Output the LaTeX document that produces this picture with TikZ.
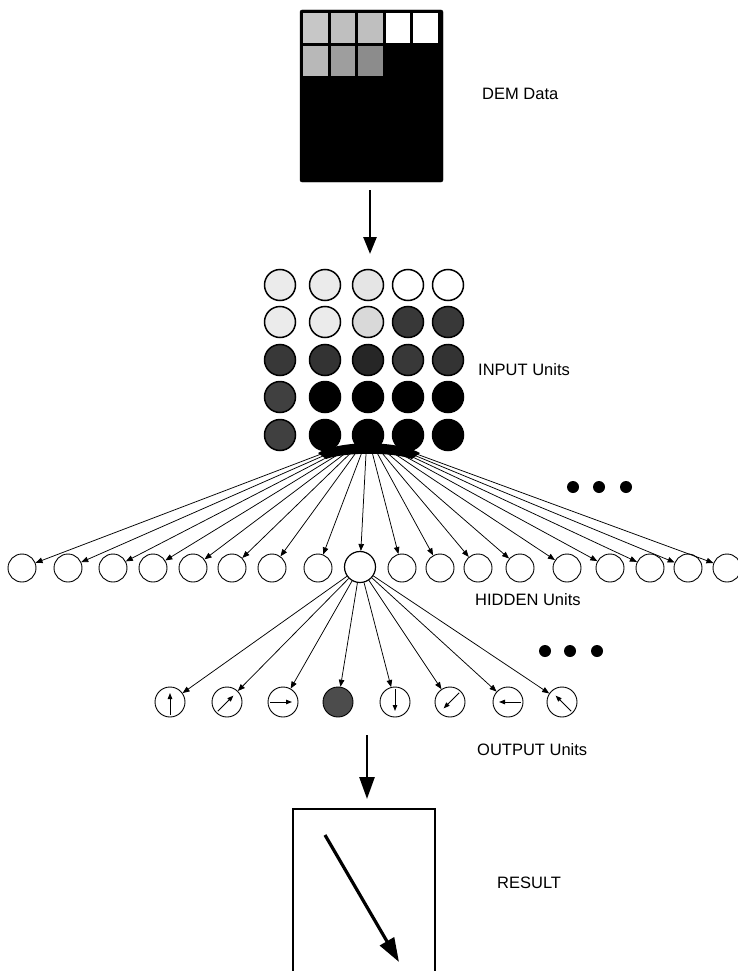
\documentclass[tikz,border=0pt]{standalone}
\usepackage{fontspec}
\setmainfont{Liberation Sans}
\usetikzlibrary{arrows.meta}
\begin{document}
\begin{tikzpicture}[x=1pt,y=-1pt,
 lbl/.style={anchor=west,font=\fontsize{16.5}{19}\selectfont,inner sep=0pt},
 inunit/.style={circle,draw,line width=1.5pt,minimum size=31pt,inner sep=0pt},
 hunit/.style={circle,draw,line width=0.9pt,minimum size=28pt,inner sep=0pt},
 ounit/.style={circle,draw,line width=0.9pt,minimum size=30pt,inner sep=0pt},
 conn/.style={line width=0.75pt,-{Triangle[length=7pt,width=5.5pt]}},
 inarrow/.style={line width=1pt,-{Triangle[length=6pt,width=4.5pt]}},
 dotnode/.style={circle,fill,minimum size=12pt,inner sep=0pt},
]
\useasboundingbox (0,0) rectangle (737,971);

% DEM data grid
\node[draw,fill=black,rounded corners=2pt,minimum width=143pt,minimum height=172pt,inner sep=0pt] (dem) at (371.5,96) {};
\foreach \k/\col in {0/black!22,1/black!25,2/black!25,3/white,4/white}
  \fill[\col] ({303+27.5*\k},13) rectangle ({327.5+27.5*\k},43);
\foreach \k/\col in {0/black!28,1/black!38,2/black!45}
  \fill[\col] ({303+27.5*\k},46) rectangle ({327.5+27.5*\k},76);
\node[lbl] (demlbl) at (482,94) {DEM Data};

\coordinate (da1) at (370,190);
\coordinate (da2) at (370,254);
\draw[line width=2.6pt,-{Triangle[length=17pt,width=13pt]}] (da1) -- (da2);

% INPUT units
\foreach \c/\x/\col in {1/280/black!8,2/325/black!8,3/368/black!10,4/408/white,5/448/white}
  \node[inunit,fill=\col] (in1\c) at (\x,285) {};
\foreach \c/\x/\col in {1/280/black!8,2/325/black!8,3/368/black!15,4/408/black!78,5/448/black!78}
  \node[inunit,fill=\col] (in2\c) at (\x,322) {};
\foreach \c/\x/\col in {1/280/black!78,2/325/black!80,3/368/black!85,4/408/black!78,5/448/black!80}
  \node[inunit,fill=\col] (in3\c) at (\x,360) {};
\foreach \c/\x/\col in {1/280/black!75,2/325/black,3/368/black,4/408/black,5/448/black}
  \node[inunit,fill=\col] (in4\c) at (\x,397) {};
\foreach \c/\x/\col in {1/280/black!75,2/325/black,3/368/black,4/408/black,5/448/black}
  \node[inunit,fill=\col] (in5\c) at (\x,435) {};
\node[lbl] (inlbl) at (478,370) {INPUT Units};

% dark convergence blob
\fill (318,453) .. controls (340,440) and (396,440) .. (420,453)
  -- (412,459) .. controls (392,452) and (346,452) .. (326,459) -- cycle;

% HIDDEN units
\foreach \hx [count=\i] in {22,68,113,153,193,232,272,318,402,440,478,520,567,610,650,688,727}{
  \node[hunit] (h\i) at (\hx,568) {};
  \coordinate (s\i) at ({368+(\hx-368)*0.12},452);
  \draw[conn] (s\i) -- (h\i);
}
\node[hunit,line width=1.2pt,minimum size=31pt] (hb) at (360,567) {};
\coordinate (sb) at (366,454);
\draw[conn] (sb) -- (hb);
\node[lbl] (hidlbl) at (475,600) {HIDDEN Units};

\node[dotnode] (d1) at (573,487) {};
\node[dotnode] (d2) at (599,487) {};
\node[dotnode] (d3) at (626,487) {};

% OUTPUT units
\foreach \ox/\ang [count=\j] in {170/90,227/45,283/0,395/-90,450/-135,508/180,562/135}{
  \node[ounit] (o\j) at (\ox,702) {};
  \draw[inarrow] ([shift={(\ang+180:13pt)}]o\j.center) -- ([shift={(\ang:9pt)}]o\j.center);
  \draw[conn] (hb) -- (o\j);
}
\node[ounit,fill=black!70] (odark) at (338,702) {};
\draw[conn] (hb) -- (odark);

\node[dotnode] (d4) at (545,651) {};
\node[dotnode] (d5) at (570,651) {};
\node[dotnode] (d6) at (597,651) {};
\node[lbl] (outlbl) at (477,750) {OUTPUT Units};

% RESULT
\coordinate (ra1) at (367,735);
\coordinate (ra2) at (367,799);
\draw[line width=2.6pt,-{Triangle[length=22pt,width=15pt]}] (ra1) -- (ra2);
\draw[line width=2.2pt] (293,972) -- (293,809) -- (435,809) -- (435,972);
\coordinate (rd1) at (325,835);
\coordinate (rd2) at (399,962);
\draw[line width=3.2pt,-{Triangle[length=24pt,width=16pt]}] (rd1) -- (rd2);
\node[lbl] (reslbl) at (497,883) {RESULT};
\end{tikzpicture}
\end{document}
